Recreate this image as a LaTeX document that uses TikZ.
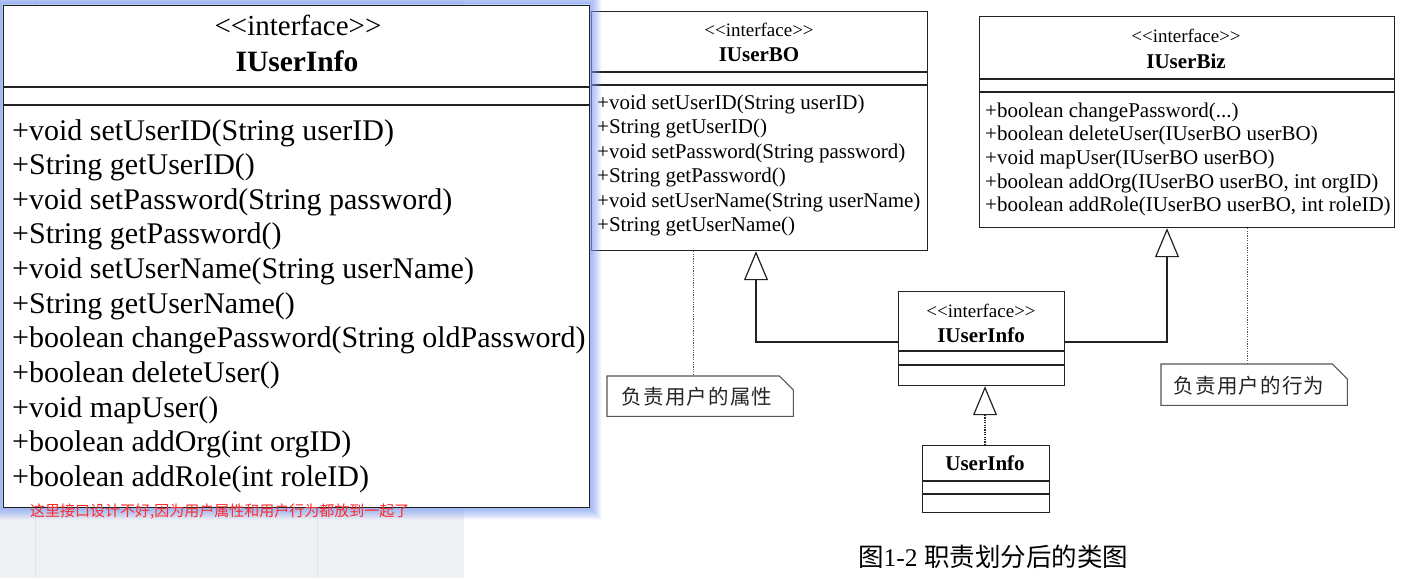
\documentclass[tikz,border=0pt]{standalone}
\usepackage{fontspec}
\usetikzlibrary{arrows.meta}
\newfontfamily\umlfont{Liberation Serif}
\newfontfamily\cjk{Noto Sans CJK SC}
\newfontfamily\cjkwide{Noto Sans CJK SC}[LetterSpace=6]
\newcommand\umldots{...}
\definecolor{bggray}{HTML}{F0F1F4}
\definecolor{bgline}{HTML}{E2E4E8}
\definecolor{glowblue}{HTML}{7C9CF0}
\definecolor{redtxt}{HTML}{FF2A2A}
\definecolor{umlline}{HTML}{222222}
\definecolor{notegray}{HTML}{555555}
\tikzset{
  umlbox/.style={draw=umlline, line width=1.2pt, fill=white, inner sep=0pt, anchor=north west},
  sepline/.style={draw=umlline, line width=1.2pt},
  stereo/.style={inner sep=0pt, font=\umlfont\fontsize{19}{22}\selectfont},
  cname/.style={inner sep=0pt, font=\umlfont\bfseries\fontsize{21}{24}\selectfont},
  meth/.style={anchor=west, inner sep=0pt, font=\umlfont\fontsize{21}{24}\selectfont},
  bigmeth/.style={anchor=west, inner sep=0pt, font=\umlfont\fontsize{30}{34}\selectfont},
  notebox/.style={inner sep=0pt, anchor=north west, font=\cjkwide\fontsize{20.5}{24}\selectfont, text=black!85},
  noteline/.style={draw=notegray, line width=1.1pt, fill=white},
  gen/.style={draw=umlline, line width=1.2pt, -{Triangle[open, length=29pt, width=24pt, fill=white]}},
  real/.style={draw=umlline, line width=1.2pt, dash pattern=on 1.2pt off 1.2pt, -{Triangle[open, length=29pt, width=24pt, fill=white]}},
  dep/.style={draw=notegray, line width=1pt, dash pattern=on 1.2pt off 1.2pt}
}
\begin{document}
\begin{tikzpicture}[x=1pt,y=-1pt]
\useasboundingbox (0,0) rectangle (1404,578);
\clip (0,0) rectangle (1404,578);
% background of the screenshot
\fill[white] (0,0) rectangle (1404,578);
\fill[bggray] (0,0) rectangle (464,578);
\draw[bgline, line width=1pt] (35,0) -- (35,578);
\draw[bgline, line width=1pt] (317,0) -- (317,578);

% ---------- IUserBO ----------
\node[umlbox, minimum width=336pt, minimum height=239pt] (bo) at (591,11) {};
\draw[sepline] (bo.west |- 0,72) -- (bo.east |- 0,72);
\draw[sepline] (bo.west |- 0,85) -- (bo.east |- 0,85);
\node[stereo] (bost) at (759,30) {<<interface>>};
\node[cname] (bonm) at (759,55) {IUserBO};
\foreach \t [count=\i from 0] in {{+void setUserID(String userID)},{+String getUserID()},{+void setPassword(String password)},{+String getPassword()},{+void setUserName(String userName)},{+String getUserName()}}
  \node[meth] (bom\i) at (597,104+24.5*\i) {\t\vphantom{(}};

% ---------- IUserBiz ----------
\node[umlbox, minimum width=415pt, minimum height=211pt] (biz) at (979,16) {};
\draw[sepline] (biz.west |- 0,79) -- (biz.east |- 0,79);
\draw[sepline] (biz.west |- 0,92) -- (biz.east |- 0,92);
\node[stereo] (bizst) at (1186,36) {<<interface>>};
\node[cname] (biznm) at (1186,61) {IUserBiz};
\foreach \t [count=\i from 0] in {{+boolean changePassword(\umldots)},{+boolean deleteUser(IUserBO userBO)},{+void mapUser(IUserBO userBO)},{+boolean addOrg(IUserBO userBO, int orgID)},{+boolean addRole(IUserBO userBO, int roleID)}}
  \node[meth] (bizm\i) at (985,112+23.7*\i) {\t\vphantom{(}};

% ---------- IUserInfo (small) ----------
\node[umlbox, minimum width=166pt, minimum height=94pt] (ui) at (898,291) {};
\draw[sepline] (ui.west |- 0,351) -- (ui.east |- 0,351);
\draw[sepline] (ui.west |- 0,365) -- (ui.east |- 0,365);
\node[stereo] (uist) at (981,311) {<<interface>>};
\node[cname] (uinm) at (981,335) {IUserInfo};

% ---------- UserInfo ----------
\node[umlbox, minimum width=127pt, minimum height=67pt] (uc) at (922,445) {};
\draw[sepline] (uc.west |- 0,481) -- (uc.east |- 0,481);
\draw[sepline] (uc.west |- 0,494) -- (uc.east |- 0,494);
\node[cname] (ucnm) at (985,463) {UserInfo};

% ---------- notes ----------
\node[notebox, minimum width=186pt, minimum height=40pt] (n1) at (607,376) {};
\draw[noteline] (n1.north west) -- ([xshift=-14pt]n1.north east) -- ([yshift=-14pt]n1.north east) -- (n1.south east) -- (n1.south west) -- cycle;
\node[notebox, anchor=center] (n1t) at (697,397) {负责用户的属性};
\node[notebox, minimum width=186pt, minimum height=41pt] (n2) at (1161,364) {};
\draw[noteline] (n2.north west) -- ([xshift=-15pt]n2.north east) -- ([yshift=-15pt]n2.north east) -- (n2.south east) -- (n2.south west) -- cycle;
\node[notebox, anchor=center] (n2t) at (1249,386) {负责用户的行为};

% ---------- connectors ----------
\draw[gen] (ui.west |- 0,342) -| (bo.south -| 756,0);
\draw[gen] (ui.east |- 0,342) -| (biz.south -| 1167,0);
\draw[real] (uc.north -| 985,0) -- (ui.south -| 985,0);
\draw[dep] (bo.south -| 693,0) -- (n1.north -| 693,0);
\draw[dep] (biz.south -| 1247,0) -- (n2.north -| 1247,0);

% ---------- big IUserInfo window with glow ----------
\foreach \i in {1,...,12}{
  \pgfmathsetmacro{\op}{0.5*(1-\i/13)}
  \draw[glowblue, line width=1.2pt, opacity=\op] (3-\i,5-\i) rectangle (589+\i,507+\i);
}
\node[umlbox, line width=1pt, minimum width=586pt, minimum height=502pt] (big) at (3,5) {};
\draw[sepline] (big.west |- 0,87) -- (big.east |- 0,87);
\draw[sepline] (big.west |- 0,105) -- (big.east |- 0,105);
\node[inner sep=0pt, font=\umlfont\fontsize{29}{32}\selectfont] (bigst) at (298,25) {<<interface>>};
\node[inner sep=0pt, font=\umlfont\bfseries\fontsize{29.5}{32}\selectfont] (bignm) at (297,61) {IUserInfo};
\foreach \t [count=\i from 0] in {{+void setUserID(String userID)},{+String getUserID()},{+void setPassword(String password)},{+String getPassword()},{+void setUserName(String userName)},{+String getUserName()},{+boolean changePassword(String oldPassword)},{+boolean deleteUser()},{+void mapUser()},{+boolean addOrg(int orgID)},{+boolean addRole(int roleID)}}
  \node[bigmeth] (bigm\i) at (12,133+34.6*\i) {\t\vphantom{(}};
\node[anchor=west, inner sep=0pt, text=redtxt, font=\cjk\fontsize{15}{17}\selectfont] (remark) at (30,512) {这里接口设计不好,因为用户属性和用户行为都放到一起了};

% ---------- caption ----------
\node[anchor=west, inner sep=0pt, font=\fontsize{25.5}{28}\selectfont] (caption) at (858,557) {{\cjk 图}{\umlfont 1-2 }{\cjk 职责划分后的类图}};
\end{tikzpicture}
\end{document}
